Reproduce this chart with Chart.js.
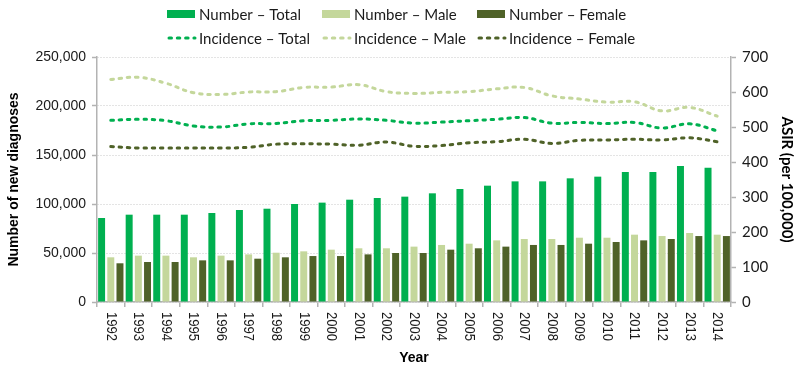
<!DOCTYPE html>
<html lang="en">
<head>
    <meta charset="UTF-8">
    <title>New diagnoses and ASIR, 1992-2014</title>
    <style>
        html, body {
            margin: 0;
            padding: 0;
            background: #fff;
        }
        .wrap {
            position: relative;
            width: 800px;
            height: 368px;
        }
    </style>
</head>
<body>
    <div class="wrap">
        <canvas id="chart" width="800" height="368"></canvas>
    </div>

    <script src="https://cdn.jsdelivr.net/npm/chart.js"></script>
    <script>
        // data
        const years = ['1992', '1993', '1994', '1995', '1996', '1997', '1998', '1999', '2000', '2001', '2002', '2003',
            '2004', '2005', '2006', '2007', '2008', '2009', '2010', '2011', '2012', '2013', '2014'];

        const numberTotal = [85700, 89100, 89100, 89100, 90800, 93900, 95200, 100000, 101400, 104400, 106100, 107500,
            110900, 115300, 118700, 123100, 123100, 126200, 127900, 132700, 132700, 138800, 137100];
        const numberMale = [45600, 47300, 47300, 45600, 47300, 48600, 50300, 51700, 53400, 54800, 54800, 56500,
            58200, 59500, 62900, 64300, 64300, 65600, 65600, 68700, 67300, 70400, 68700];
        const numberFemale = [39500, 40800, 40800, 42500, 42500, 44200, 45600, 46900, 46900, 48600, 50000, 50000,
            53400, 54800, 56500, 58200, 58200, 59500, 61200, 62900, 64300, 67300, 67300];

        const incidenceTotal = [519, 522, 518, 503, 500, 509, 510, 518, 519, 523, 519, 511,
            514, 518, 522, 527, 511, 513, 510, 513, 497, 509, 489];
        const incidenceMale = [636, 642, 625, 598, 593, 600, 601, 613, 614, 621, 601, 596,
            599, 601, 609, 613, 589, 580, 571, 572, 546, 556, 531];
        const incidenceFemale = [444, 440, 440, 440, 440, 442, 451, 452, 451, 448, 457, 445,
            447, 455, 458, 465, 453, 462, 463, 465, 463, 469, 458];

        const leftTicks = [0, 50000, 100000, 150000, 200000, 250000];
        const rightTicks = [0, 100, 200, 300, 400, 500, 600, 700];

        const GREEN = '#00b050';
        const LIGHT = '#c4d79b';
        const DARK = '#4f6228';
        const AXIS = '#b3b3b3';
        const FONT = 'Lato, "Noto Sans", sans-serif';
        const ARIAL = '"Liberation Sans", Arial, sans-serif';
        const DASH = [2.5, 5.8];

        function lineSet(label, data, color) {
            return {
                type: 'line',
                label: label,
                data: data,
                yAxisID: 'y1',
                borderColor: color,
                backgroundColor: color,
                borderWidth: 3,
                borderDash: DASH,
                borderCapStyle: 'round',
                pointRadius: 0,
                tension: 0.4,
                fill: false,
                order: 0
            };
        }

        function barSet(label, data, color) {
            return {
                type: 'bar',
                label: label,
                data: data,
                yAxisID: 'y',
                backgroundColor: color,
                borderWidth: 0,
                categoryPercentage: 1.0,
                barPercentage: 0.76,
                order: 1
            };
        }

        // legend in two rows of three, drawn on the canvas
        const gridLegend = {
            id: 'gridLegend',
            afterDraw(chart) {
                const ctx = chart.ctx;
                const cols = [167, 322, 477];
                const rows = [14, 38];
                ctx.save();
                ctx.font = '15px ' + FONT;
                ctx.textBaseline = 'middle';
                chart.data.datasets.forEach((ds, i) => {
                    const row = ds.type === 'bar' ? 0 : 1;
                    const x = cols[i % 3];
                    const y = rows[row];
                    if (ds.type === 'bar') {
                        ctx.fillStyle = ds.backgroundColor;
                        ctx.fillRect(x, y - 4, 28, 8);
                    } else {
                        ctx.strokeStyle = ds.borderColor;
                        ctx.lineWidth = 3;
                        ctx.lineCap = 'round';
                        ctx.setLineDash(DASH);
                        ctx.beginPath();
                        ctx.moveTo(x + 2, y);
                        ctx.lineTo(x + 28, y);
                        ctx.stroke();
                        ctx.setLineDash([]);
                    }
                    ctx.fillStyle = '#1a1a1a';
                    ctx.textAlign = 'left';
                    ctx.fillText(ds.label, x + 32, y + 1);
                });
                ctx.restore();
            }
        };

        // year labels turned a quarter clockwise, reading top to bottom, slightly condensed
        const yearLabels = {
            id: 'yearLabels',
            afterDraw(chart) {
                const ctx = chart.ctx;
                const xs = chart.scales.x;
                ctx.save();
                ctx.font = '15px ' + ARIAL;
                ctx.fillStyle = '#1a1a1a';
                ctx.textAlign = 'left';
                ctx.textBaseline = 'middle';
                years.forEach((yr, i) => {
                    const px = xs.getPixelForTick(i);
                    ctx.save();
                    ctx.translate(px, chart.chartArea.bottom + 10);
                    ctx.rotate(Math.PI / 2);
                    ctx.scale(0.87, 1);
                    ctx.fillText(yr, 0, 0);
                    ctx.restore();
                });
                ctx.restore();
            }
        };

        const ctx = document.getElementById('chart').getContext('2d');
        new Chart(ctx, {
            data: {
                labels: years,
                datasets: [
                    barSet('Number – Total', numberTotal, GREEN),
                    barSet('Number – Male', numberMale, LIGHT),
                    barSet('Number – Female', numberFemale, DARK),
                    lineSet('Incidence – Total', incidenceTotal, GREEN),
                    lineSet('Incidence – Male', incidenceMale, LIGHT),
                    lineSet('Incidence – Female', incidenceFemale, DARK)
                ]
            },
            options: {
                responsive: false,
                animation: false,
                layout: {
                    padding: { top: 57, left: 6, right: 4, bottom: 0 }
                },
                plugins: {
                    legend: { display: false },
                    tooltip: { enabled: false }
                },
                scales: {
                    x: {
                        offset: true,
                        grid: {
                            offset: true,
                            drawOnChartArea: false,
                            drawTicks: true,
                            tickLength: 5,
                            tickColor: AXIS,
                            lineWidth: 1.5
                        },
                        border: { color: AXIS, width: 1.5 },
                        ticks: { display: false },
                        title: {
                            display: true,
                            text: 'Year',
                            color: '#000',
                            font: { family: ARIAL, size: 14, weight: 'bold' },
                            padding: { top: 0, bottom: 1 }
                        },
                        afterFit(scale) {
                            scale.height = 66;
                        }
                    },
                    y: {
                        position: 'left',
                        min: 0,
                        max: 250000,
                        afterBuildTicks(scale) {
                            scale.ticks = leftTicks.map(v => ({ value: v }));
                        },
                        grid: {
                            color: '#c8c8c8',
                            lineWidth: 1,
                            drawTicks: true,
                            tickLength: 5,
                            tickColor: AXIS,
                            tickBorderDash: [],
                            tickWidth: 1.5
                        },
                        border: { color: AXIS, width: 1.5, dash: [1, 2] },
                        ticks: {
                            color: '#1a1a1a',
                            padding: 6,
                            font: { family: ARIAL, size: 14 },
                            callback: v => v.toLocaleString('en-US')
                        },
                        title: {
                            display: true,
                            text: 'Number of new diagnoses',
                            color: '#000',
                            font: { family: ARIAL, size: 14, weight: 'bold' },
                            padding: { top: 0, bottom: 0 }
                        },
                        afterFit(scale) {
                            scale.width = 91;
                        }
                    },
                    y1: {
                        position: 'right',
                        min: 0,
                        max: 700,
                        afterBuildTicks(scale) {
                            scale.ticks = rightTicks.map(v => ({ value: v }));
                        },
                        grid: {
                            drawOnChartArea: false,
                            drawTicks: true,
                            tickLength: 5,
                            tickColor: AXIS,
                            tickWidth: 1.5
                        },
                        border: { color: AXIS, width: 1.5 },
                        ticks: {
                            color: '#1a1a1a',
                            padding: 6,
                            font: { family: FONT, size: 15 }
                        },
                        title: {
                            display: true,
                            text: 'ASIR (per 100,000)',
                            color: '#000',
                            font: { family: FONT, size: 15, weight: 'bold' },
                            padding: { top: 0, bottom: 0 }
                        },
                        afterFit(scale) {
                            scale.width = 65;
                        }
                    }
                }
            },
            plugins: [gridLegend, yearLabels]
        });
    </script>
</body>
</html>
